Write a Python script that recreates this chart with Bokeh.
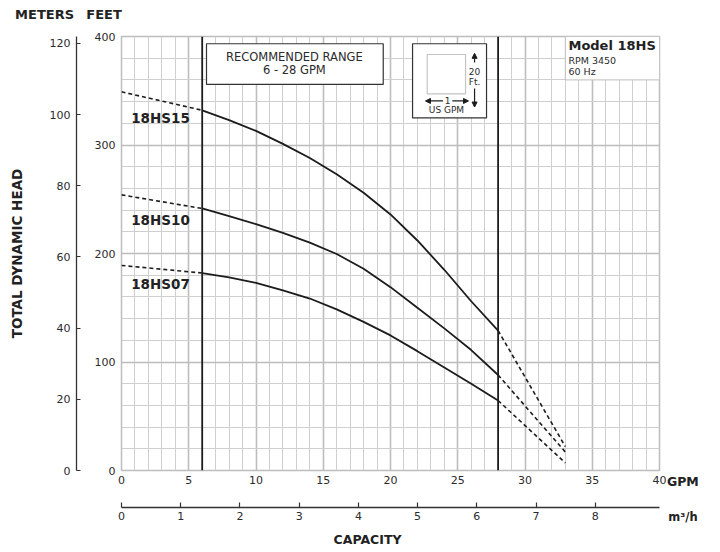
import math
from bokeh.plotting import figure
from bokeh.models import (Range1d, LinearAxis, SingleIntervalTicker, Label, Span,
                          Arrow, NormalHead, Grid, FixedTicker)
from bokeh.embed import file_html
from bokeh.resources import INLINE

# ---------------- data ----------------
gpm_solid = [6, 8, 10, 12, 14, 16, 18, 20, 22, 24, 26, 28]
hs15_ft = [332, 323, 313, 301, 288, 273, 256, 236, 212, 185, 156, 129]
hs10_ft = [241.5, 234.5, 227, 219, 210, 199.5, 186, 169, 150, 131, 111, 88]
hs07_ft = [182, 178, 173, 166, 158.5, 148.5, 137, 124.5, 110, 95, 80, 64.5]

gpm_low = [0, 6]
hs15_low = [349, 332]
hs10_low = [254, 241.5]
hs07_low = [189, 182]

gpm_high = [28, 33]
hs15_high = [129, 22]
hs10_high = [88, 17]
hs07_high = [64.5, 7]

model_names = ["18HS15", "18HS10", "18HS07"]
model_label_ft = [325.3, 230.7, 171.9]
recommended_range = [6, 28]

gpm_ticks = [0, 5, 10, 15, 20, 25, 30, 35, 40]
feet_ticks = [0, 100, 200, 300, 400]
meter_ticks = [0, 20, 40, 60, 80, 100, 120]
m3h_ticks = [0, 1, 2, 3, 4, 5, 6, 7, 8]

M_PER_FT = 0.3048
M3H_PER_GPM = 0.2271247

GPM_MAX = 40
FT_MAX = 400

FONT = "DejaVu Sans"
TXT = "#2b2b2b"
DARK = "#222222"
GRID_MAJ = "#bdbdbd"
GRID_MIN = "#cfcfcf"
INK = "#1c1c1c"

p = figure(width=720, height=552, output_backend="svg", toolbar_location=None,
           title=None,
           x_range=Range1d(0, GPM_MAX), y_range=Range1d(0, FT_MAX),
           x_axis_type=None, y_axis_type=None,
           min_border_left=121, min_border_right=61, min_border_top=36, min_border_bottom=82)
p.background_fill_color = "white"
p.border_fill_color = "white"
p.outline_line_color = GRID_MAJ
p.outline_line_width = 1.5

p.extra_y_ranges = {"m": Range1d(0, FT_MAX * M_PER_FT)}
p.extra_x_ranges = {"m3h": Range1d(0, GPM_MAX * M3H_PER_GPM)}

def style_axis(ax):
    ax.major_label_text_font = FONT
    ax.major_label_text_font_size = "11px"
    ax.major_label_text_color = TXT
    ax.minor_tick_line_color = None

# feet axis (inner left)
feet_axis = LinearAxis(ticker=FixedTicker(ticks=feet_ticks))
style_axis(feet_axis)
feet_axis.axis_line_color = None
feet_axis.major_tick_line_color = None
feet_axis.major_tick_in = 0
feet_axis.major_tick_out = 0
feet_axis.major_label_standoff = 6
feet_axis.axis_label = " "
feet_axis.axis_label_standoff = 0
feet_axis.axis_label_text_font_size = "11px"
p.add_layout(feet_axis, "left")

# meters axis (outer left)
m_axis = LinearAxis(y_range_name="m", ticker=FixedTicker(ticks=meter_ticks))
style_axis(m_axis)
m_axis.axis_line_color = "#333333"
m_axis.axis_line_width = 1.3
m_axis.major_tick_line_color = "#333333"
m_axis.major_tick_line_width = 1.2
m_axis.major_tick_in = 4
m_axis.major_tick_out = 0
m_axis.major_label_standoff = 6
m_axis.axis_label = "TOTAL DYNAMIC HEAD"
m_axis.axis_label_standoff = 22
m_axis.axis_label_text_font = FONT
m_axis.axis_label_text_font_size = "13.5px"
m_axis.axis_label_text_font_style = "bold"
m_axis.axis_label_text_color = DARK
p.add_layout(m_axis, "left")

# GPM axis (inner bottom)
gpm_axis = LinearAxis(ticker=FixedTicker(ticks=gpm_ticks))
style_axis(gpm_axis)
gpm_axis.axis_line_color = None
gpm_axis.major_tick_line_color = None
gpm_axis.major_tick_in = 0
gpm_axis.major_tick_out = 0
gpm_axis.major_label_standoff = 5
gpm_axis.axis_label = " "
gpm_axis.axis_label_standoff = 6
gpm_axis.axis_label_text_font_size = "11px"
p.add_layout(gpm_axis, "below")

# m3/h axis (outer bottom)
m3_axis = LinearAxis(x_range_name="m3h", ticker=FixedTicker(ticks=m3h_ticks))
style_axis(m3_axis)
m3_axis.axis_line_color = "#333333"
m3_axis.axis_line_width = 1.3
m3_axis.major_tick_line_color = "#333333"
m3_axis.major_tick_line_width = 1.2
m3_axis.major_tick_in = 5
m3_axis.major_tick_out = 0
m3_axis.major_label_standoff = 4
p.add_layout(m3_axis, "below")

def side_label(side, x, y, text, size, align="center"):
    p.add_layout(Label(x=x, y=y, text=text, text_font=FONT, text_font_size=size,
                       text_font_style="bold", text_align=align, text_baseline="middle",
                       text_color=DARK), side)

# texts outside the frame, placed in side panels (not clipped)
side_label("above", -5.72, 420.3, "METERS", "13px")
side_label("above", -1.30, 420.3, "FEET", "13px")
side_label("below", 18.29, -63.6, "CAPACITY", "12.5px")
side_label("right", 40.55, -10.1, "GPM", "12.5px", align="left")
side_label("right", 40.65, -42.4, "m³/h", "11.5px", align="left")

# grids
xg = Grid(dimension=0, ticker=SingleIntervalTicker(interval=5, num_minor_ticks=5))
yg = Grid(dimension=1, ticker=SingleIntervalTicker(interval=100, num_minor_ticks=5))
for g in (xg, yg):
    g.grid_line_color = GRID_MAJ
    g.grid_line_width = 1.6
    g.minor_grid_line_color = GRID_MIN
    g.minor_grid_line_width = 1.0
p.center.append(xg)
p.center.append(yg)

# boxes
p.quad(left=[6.32], right=[19.46], bottom=[355.8], top=[393.3],
       fill_color="white", line_color="#333333", line_width=1.2)
p.quad(left=[21.64], right=[27.14], bottom=[325.0], top=[393.3],
       fill_color="white", line_color="#333333", line_width=1.2)
p.quad(left=[22.73], right=[25.58], bottom=[347.2], top=[383.4],
       fill_color="white", line_color="#c4c4c4", line_width=1.2)
p.quad(left=[33], right=[40], bottom=[360], top=[400],
       fill_color="white", line_color=GRID_MAJ, line_width=1.0)

# recommended range lines
for loc in recommended_range:
    p.add_layout(Span(location=loc, dimension="height", line_color=INK, line_width=1.8))

# curves
for ys_low, ys, ys_high in [(hs15_low, hs15_ft, hs15_high),
                            (hs10_low, hs10_ft, hs10_high),
                            (hs07_low, hs07_ft, hs07_high)]:
    p.line(gpm_solid, ys, line_color=INK, line_width=1.8)
    p.line(gpm_low, ys_low, line_color=INK, line_width=1.6, line_dash="4 3")
    p.line(gpm_high, ys_high, line_color=INK, line_width=1.6, line_dash="4 3")

def lab(x, y, text, size, bold=False, align="center", baseline="middle", color=TXT):
    p.add_layout(Label(x=x, y=y, text=text, text_font=FONT, text_font_size=size,
                       text_font_style="bold" if bold else "normal",
                       text_align=align, text_baseline=baseline, text_color=color))

for name, yv in zip(model_names, model_label_ft):
    lab(0.72, yv, name, "13.5px", bold=True, align="left", color=DARK)

lab(12.85, 380.8, "RECOMMENDED RANGE", "11.5px")
lab(12.85, 368.7, "6 - 28 GPM", "11.5px")

lab(33.23, 392.0, "Model 18HS", "13px", bold=True, align="left", color=DARK)
lab(33.23, 378.3, "RPM 3450", "9.5px", align="left")
lab(33.23, 368.2, "60 Hz", "9.5px", align="left")

lab(26.25, 367.7, "20", "9px")
lab(26.25, 358.5, "Ft.", "9px")
lab(24.24, 341.3, "1", "9px")
lab(24.16, 331.8, "US GPM", "9px")

def head():
    return NormalHead(size=5, fill_color=INK, line_color=INK)

p.add_layout(Arrow(end=head(), x_start=26.25, y_start=376.0, x_end=26.25, y_end=384.5,
                   line_color=INK, line_width=1.2))
p.add_layout(Arrow(end=head(), x_start=26.25, y_start=352.0, x_end=26.25, y_end=335.0,
                   line_color=INK, line_width=1.2))
p.add_layout(Arrow(end=head(), x_start=23.9, y_start=340.6, x_end=22.6, y_end=340.6,
                   line_color=INK, line_width=1.2))
p.add_layout(Arrow(end=head(), x_start=24.6, y_start=340.6, x_end=25.8, y_end=340.6,
                   line_color=INK, line_width=1.2))

open("out.html", "w").write(file_html(p, INLINE))
